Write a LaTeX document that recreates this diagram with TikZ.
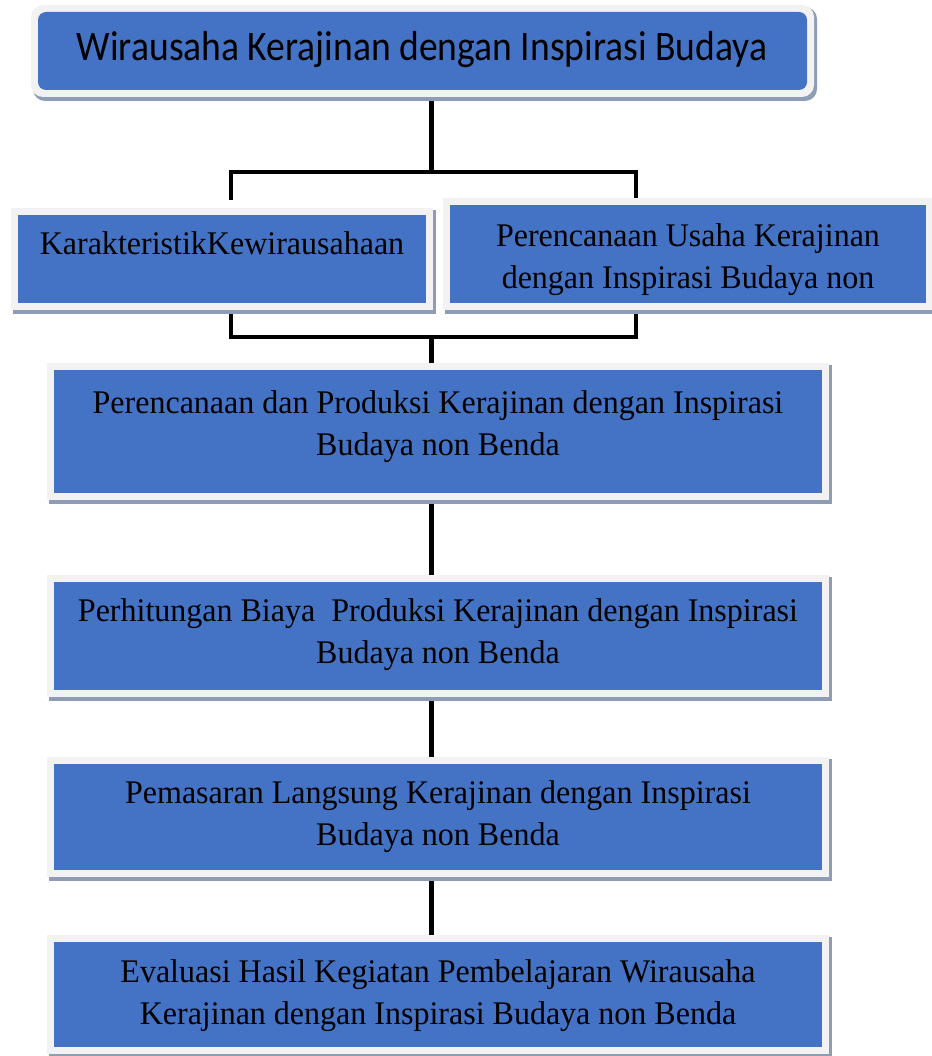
\documentclass[tikz,border=0pt]{standalone}
\usepackage{fontspec}
\setmainfont{Liberation Serif}
\newfontfamily\titlefont[FakeStretch=0.895]{Carlito}
\newfontfamily\boxfont[FakeStretch=0.97]{Liberation Serif}
\definecolor{boxblue}{HTML}{4472C4}
\definecolor{framec}{HTML}{F2F2F2}
\definecolor{shadowc}{HTML}{8E9CB6}
\pgfdeclarelayer{bg}\pgfsetlayers{bg,main}
\newcommand\frameshadow[5][0pt]{%
  \fill[shadowc,rounded corners=#1] ({#2-5},{#3-5}) rectangle ({#4+10},{#5+11});
  \fill[framec,rounded corners=#1] ({#2-7},{#3-7}) rectangle ({#4+7},{#5+7});
}
\tikzset{
  bluebox/.style={fill=boxblue, draw=none, inner sep=0pt},
  boxtext/.style={font=\boxfont\fontsize{33}{42}\selectfont, align=center, inner sep=0pt, text=black},
  titletext/.style={font=\titlefont\fontsize{42}{50}\selectfont, inner sep=0pt, text=black},
  mainline/.style={line width=5pt, black},
  brkline/.style={line width=3.5pt, black},
}
\begin{document}
\begin{tikzpicture}[x=1pt,y=-1pt]
\useasboundingbox (0,0) rectangle (931,1056);
% title
\frameshadow[12pt]{38}{12}{807}{90}
\node[bluebox, rounded corners=8pt, minimum width=769pt, minimum height=78pt] (T) at (422.5,51) {};
\node[titletext] (Tt) at (422,50) {Wirausaha Kerajinan dengan Inspirasi Budaya};
% left / right
\frameshadow{18}{215}{426}{303}
\node[bluebox, minimum width=408pt, minimum height=88pt] (L) at (222,259) {};
\node[boxtext] (Lt) at (222,243) {KarakteristikKewirausahaan};
\frameshadow{450}{205}{926}{303}
\node[bluebox, minimum width=476pt, minimum height=98pt] (R) at (688,254) {};
\node[boxtext] (Rt) at (688,260) {Perencanaan Usaha Kerajinan\\dengan Inspirasi Budaya non};
% B1
\frameshadow{54}{370}{822}{493}
\node[bluebox, minimum width=768pt, minimum height=123pt] (B1) at (438,431.5) {};
\node[boxtext] (B1t) at (438,427) {Perencanaan dan Produksi Kerajinan dengan Inspirasi\\Budaya non Benda};
% B2
\frameshadow{54}{582}{822}{690}
\node[bluebox, minimum width=768pt, minimum height=108pt] (B2) at (438,636) {};
\node[boxtext] (B2t) at (438,634.5) {Perhitungan Biaya\ \ Produksi Kerajinan dengan Inspirasi\\Budaya non Benda};
% B3
\frameshadow{54}{764}{822}{870}
\node[bluebox, minimum width=768pt, minimum height=106pt] (B3) at (438,817) {};
\node[boxtext] (B3t) at (438,817) {Pemasaran Langsung Kerajinan dengan Inspirasi\\Budaya non Benda};
% B4
\frameshadow{54}{942}{822}{1047}
\node[bluebox, minimum width=768pt, minimum height=105pt] (B4) at (438,994.5) {};
\node[boxtext] (B4t) at (438,996) {Evaluasi Hasil Kegiatan Pembelajaran Wirausaha\\Kerajinan dengan Inspirasi Budaya non Benda};
% connectors (behind the boxes)
\coordinate (jt) at (431,172);
\coordinate (ja) at (231,172);
\coordinate (jc) at (636,172);
\coordinate (jat) at (231,200);
\coordinate (jct) at (636,200);
\coordinate (jb) at (431,337);
\coordinate (jbl) at (231,337);
\coordinate (jbr) at (636,337);
\begin{pgfonlayer}{bg}
\draw[mainline] (jt |- T.south) -- (jt);
\draw[brkline] ([xshift=-1.75pt]ja) -- ([xshift=1.75pt]jc);
\draw[brkline] (ja) -- (jat);
\draw[brkline] (jc) -- (jct);
\draw[brkline] (jbl |- L.south) -- (jbl);
\draw[brkline] (jbr |- R.south) -- (jbr);
\draw[brkline] ([xshift=-1.75pt]jbl) -- ([xshift=1.75pt]jbr);
\draw[mainline] (jb) ++(0,2) -- (jb |- B1.north);
\draw[mainline] (B1.south -| jb) -- (B2.north -| jb);
\draw[mainline] (B2.south -| jb) -- (B3.north -| jb);
\draw[mainline] (B3.south -| jb) -- (B4.north -| jb);
\end{pgfonlayer}
\end{tikzpicture}
\end{document}
